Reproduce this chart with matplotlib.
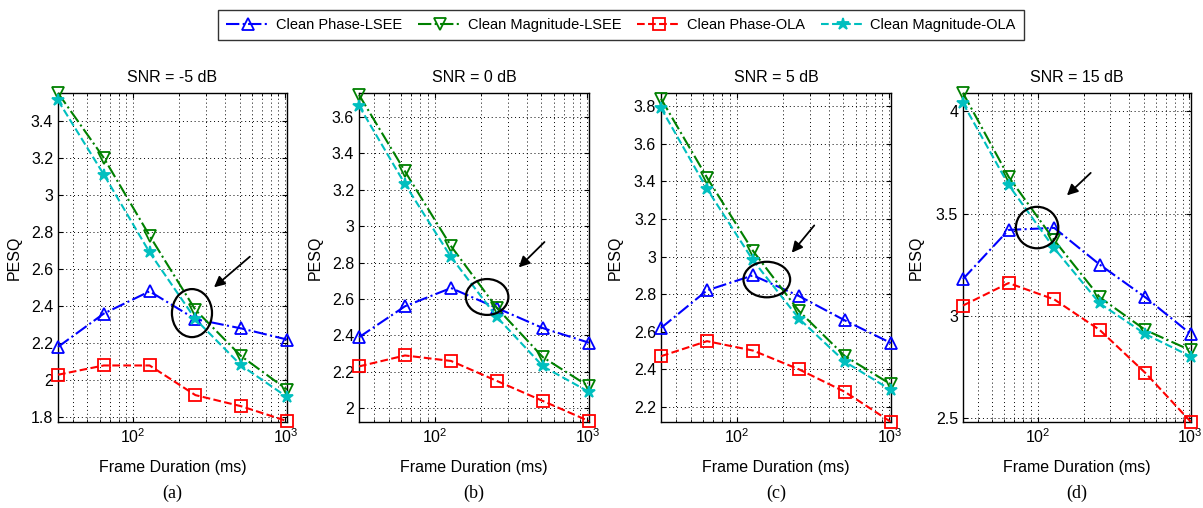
import numpy as np
import matplotlib
matplotlib.use("Agg")
import matplotlib.pyplot as plt
from matplotlib.patches import Ellipse
from matplotlib.lines import Line2D

plt.rcParams['font.family'] = ['Liberation Sans', 'DejaVu Sans']
plt.rcParams['mathtext.default'] = 'regular'

# frame durations (ms)
frames = [32, 64, 128, 256, 512, 1024]
titles = ["SNR = -5 dB", "SNR = 0 dB", "SNR = 5 dB", "SNR = 15 dB"]
captions = ["(a)", "(b)", "(c)", "(d)"]
series_names = ["Clean Phase-LSEE", "Clean Magnitude-LSEE", "Clean Phase-OLA", "Clean Magnitude-OLA"]

# PESQ per SNR panel
phase_lsee = [
    [2.18, 2.36, 2.48, 2.33, 2.28, 2.22],
    [2.39, 2.56, 2.66, 2.55, 2.44, 2.36],
    [2.62, 2.82, 2.90, 2.79, 2.66, 2.54],
    [3.18, 3.42, 3.43, 3.25, 3.09, 2.91],
]
mag_lsee = [
    [3.55, 3.20, 2.78, 2.38, 2.13, 1.95],
    [3.72, 3.30, 2.89, 2.55, 2.28, 2.12],
    [3.84, 3.42, 3.03, 2.71, 2.47, 2.32],
    [4.09, 3.68, 3.37, 3.09, 2.93, 2.83],
]
phase_ola = [
    [2.03, 2.08, 2.08, 1.92, 1.86, 1.78],
    [2.23, 2.29, 2.26, 2.15, 2.04, 1.93],
    [2.47, 2.55, 2.50, 2.40, 2.28, 2.12],
    [3.05, 3.16, 3.08, 2.93, 2.72, 2.48],
]
mag_ola = [
    [3.51, 3.11, 2.69, 2.33, 2.08, 1.91],
    [3.66, 3.23, 2.83, 2.50, 2.23, 2.09],
    [3.79, 3.36, 2.98, 2.67, 2.44, 2.29],
    [4.04, 3.64, 3.33, 3.06, 2.91, 2.80],
]

ylims = [(1.775, 3.55), (1.925, 3.73), (2.12, 3.87), (2.48, 4.09)]
yticks = [
    [1.8, 2, 2.2, 2.4, 2.6, 2.8, 3, 3.2, 3.4],
    [2, 2.2, 2.4, 2.6, 2.8, 3, 3.2, 3.4, 3.6],
    [2.2, 2.4, 2.6, 2.8, 3, 3.2, 3.4, 3.6, 3.8],
    [2.5, 3, 3.5, 4],
]

styles = [
    dict(color='#0000ff', ls='-.', marker='^', mfc='none', ms=9),
    dict(color='#008000', ls='-.', marker='v', mfc='none', ms=9),
    dict(color='#ff0000', ls='--', marker='s', mfc='none', ms=9),
    dict(color='#00bfbf', ls='--', marker='*', ms=9),
]

# ellipse (cx, cy, w, h) and arrow (tail, head), axes fraction
ellipses = [(0.585, 0.331, 0.175, 0.146), (0.557, 0.380, 0.185, 0.109),
            (0.46, 0.433, 0.203, 0.108), (0.325, 0.591, 0.186, 0.126)]
arrows = [((0.847, 0.508), (0.672, 0.404)), ((0.815, 0.553), (0.686, 0.464)),
          ((0.674, 0.604), (0.561, 0.508)), ((0.569, 0.763), (0.447, 0.683))]

lefts = [58, 359, 661, 963]
widths = [229, 230, 230, 228]
ylab_x = [-0.157, -0.157, -0.165, -0.171]
W, H = 1203, 508

fig = plt.figure(figsize=(W / 100, H / 100), dpi=100)

grid_kw = dict(ls=(0, (1, 3)), color='k', lw=0.7)
for i in range(4):
    ax = fig.add_axes([lefts[i] / W, 86 / H, widths[i] / W, 329 / H])
    data = [phase_lsee[i], mag_lsee[i], phase_ola[i], mag_ola[i]]
    for d, st in zip(data, styles):
        ax.plot(frames, d, lw=1.5, mew=1.3, clip_on=False, zorder=3, **st)
    ax.set_xscale('log')
    ax.set_xlim(32, 1024)
    ax.set_ylim(*ylims[i])
    ax.set_yticks(yticks[i])
    ax.set_yticklabels([f"{t:g}" for t in yticks[i]])
    ax.grid(True, which='major', **grid_kw)
    ax.grid(True, which='minor', axis='x', **grid_kw)
    ax.tick_params(which='both', direction='in', top=True, right=True, labelsize=11.5)
    ax.tick_params(axis='y', which='minor', left=False, right=False)
    for sp in ax.spines.values():
        sp.set_linewidth(1.0)
    ax.set_title(titles[i], fontsize=11.5, pad=8)
    ax.set_xlabel("Frame Duration (ms)", fontsize=11.5)
    ax.xaxis.set_label_coords(0.5, -0.115)
    ax.set_ylabel("PESQ", fontsize=11.5)
    ax.yaxis.set_label_coords(ylab_x[i], 0.5)
    ax.text(0.5, -0.216, captions[i], transform=ax.transAxes, ha='center', va='center',
            fontsize=13, family='Liberation Serif')
    cx, cy, ew, eh = ellipses[i]
    ax.add_patch(Ellipse((cx, cy), ew, eh, transform=ax.transAxes, fill=False,
                         ec='k', lw=1.6, zorder=5))
    tail, head = arrows[i]
    ax.annotate('', xy=head, xytext=tail, xycoords='axes fraction',
                arrowprops=dict(arrowstyle='-|>', color='k', lw=1.3, mutation_scale=16))

handles = [Line2D([], [], lw=1.5, mew=1.3, **st) for st in styles]
leg = fig.legend(handles, series_names, loc='upper center', ncol=4,
                 bbox_to_anchor=(621 / W, 1 - 3 / H), fontsize=10.5, frameon=True,
                 fancybox=False, edgecolor='k', handlelength=3, columnspacing=1.1,
                 borderpad=0.55, handletextpad=0.4)
leg.get_frame().set_linewidth(1.0)

fig.savefig("out.png", dpi=100)
